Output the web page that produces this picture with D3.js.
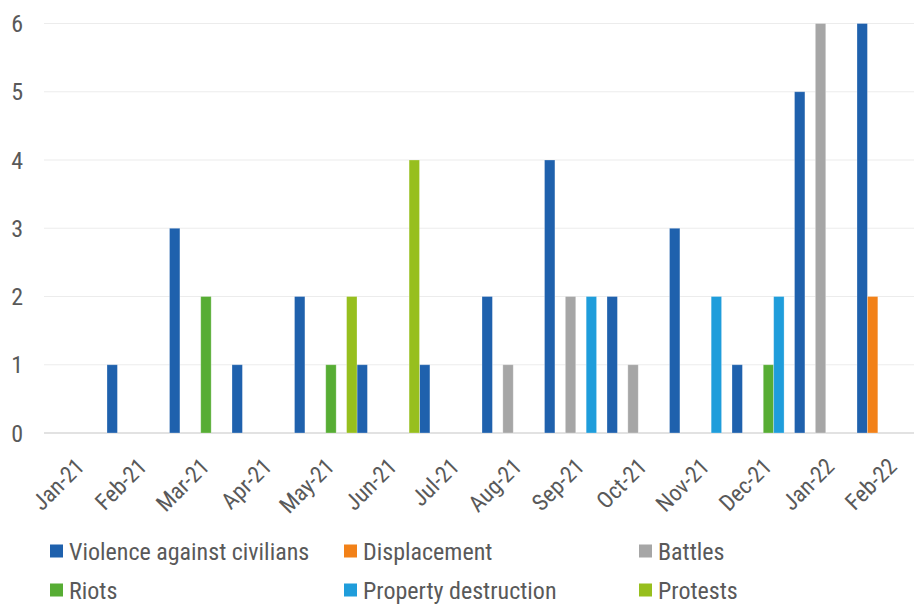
<!DOCTYPE html>
<html><head><meta charset="utf-8">
<script src="https://cdn.jsdelivr.net/npm/d3@7"></script>
<style>body{margin:0;background:#fff}svg{display:block}text{font-family:"Roboto Condensed",Roboto,sans-serif;fill:#595959}</style>
</head><body><svg id="c" width="914" height="604"></svg>
<script>
const categories=["Jan-21","Feb-21","Mar-21","Apr-21","May-21","Jun-21","Jul-21","Aug-21","Sep-21","Oct-21","Nov-21","Dec-21","Jan-22","Feb-22"];
const seriesNames=["Violence against civilians","Displacement","Battles","Riots","Property destruction","Protests"];
const seriesColors=["#1f61ad","#f28118","#a6a6a6","#57ad34","#1f9ddb","#97bf1e"];
const violence=[0,1,3,1,2,1,1,2,4,2,3,1,5,6];
const displacement=[0,0,0,0,0,0,0,0,0,0,0,0,0,2];
const battles=[0,0,0,0,0,0,0,1,2,1,0,0,6,0];
const riots=[0,0,2,0,1,0,0,0,0,0,0,1,0,0];
const propertyDestruction=[0,0,0,0,0,0,0,0,2,0,2,2,0,0];
const protests=[0,0,0,0,2,4,0,0,0,0,0,0,0,0];
const yTicks=[0,1,2,3,4,5,6];
const seriesValues=[violence,displacement,battles,riots,propertyDestruction,protests];

const svg=d3.select("#c");
const x=d3.scaleBand().domain(categories).range([44.5,919.5]).paddingInner(0).paddingOuter(0);
const xs=d3.scaleBand().domain(seriesNames).range([0,x.bandwidth()]).padding(0);
const y=d3.scaleLinear().domain([0,6]).range([433,23.5]);

// gridlines
svg.append("g").selectAll("line").data(yTicks).join("line")
 .attr("x1",44).attr("x2",914).attr("y1",d=>y(d)).attr("y2",d=>y(d))
 .attr("stroke",d=>d===0?"#d9d9d9":"#ececec").attr("stroke-width",d=>d===0?1.5:1.2);

// y labels
svg.append("g").selectAll("text").data(yTicks).join("text")
 .attr("x",23).attr("y",d=>y(d)+8.5)
 .attr("text-anchor","end").attr("font-size",24).text(d=>d);

// bars
const g=svg.append("g");
seriesNames.forEach((s,si)=>{
 g.append("g").selectAll("rect").data(categories.map((c,i)=>({c,v:seriesValues[si][i]})).filter(d=>d.v>0)).join("rect")
  .attr("x",d=>x(d.c)+xs(s)).attr("width",xs.bandwidth())
  .attr("y",d=>y(d.v)).attr("height",d=>y(0)-y(d.v))
  .attr("fill",seriesColors[si]).attr("stroke","#fff").attr("stroke-opacity",0.35).attr("stroke-width",0.8);
});

// x labels
svg.append("g").selectAll("text").data(categories).join("text")
 .attr("transform",d=>`translate(${x(d)+x.bandwidth()/2+10},${468}) rotate(-45)`)
 .attr("text-anchor","end").attr("font-size",23).text(d=>d);

// legend
const legPos=[[50,551],[344,551],[639,551],[50,590],[344,590],[639,590]];
const lg=svg.append("g").selectAll("g").data(seriesNames).join("g")
 .attr("transform",(d,i)=>`translate(${legPos[i][0]},${legPos[i][1]})`);
lg.append("rect").attr("x",0).attr("y",-6.5).attr("width",13).attr("height",13).attr("fill",(d,i)=>seriesColors[i]);
lg.append("text").attr("x",19).attr("y",8.5).attr("font-size",24).text(d=>d);
</script></body></html>
